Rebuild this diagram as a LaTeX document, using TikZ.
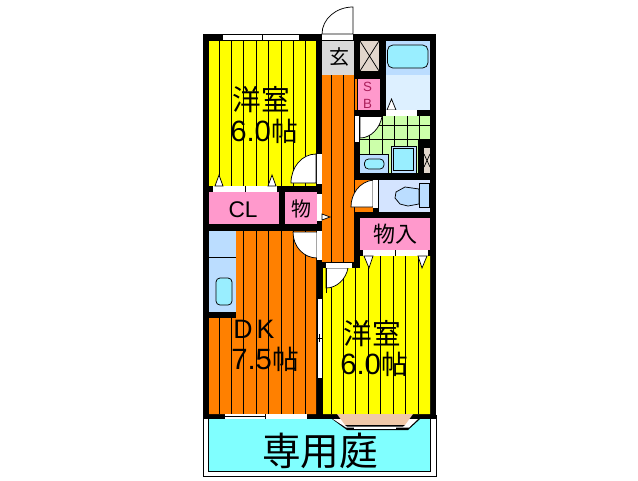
\documentclass[tikz,border=0pt]{standalone}
\usepackage{fontspec}
\setmainfont{Liberation Sans}
\newfontfamily\cjk{Noto Sans CJK JP}
\definecolor{yel}{HTML}{FFFF00}
\definecolor{org}{HTML}{FF8000}
\definecolor{pnk}{HTML}{FF99CC}
\definecolor{gry}{HTML}{D9D9D9}
\definecolor{cya}{HTML}{80FFFF}
\definecolor{blu}{HTML}{BBDDFF}
\definecolor{lbl}{HTML}{DDF0FF}
\definecolor{tub}{HTML}{99EEFF}
\definecolor{grn}{HTML}{CCFFAA}
\definecolor{toi}{HTML}{D4E4FF}
\definecolor{clo}{HTML}{E2D6CC}
\definecolor{pch}{HTML}{F0C8A8}
\tikzset{
  ln/.style={draw=black,line width=.75pt},
  tn/.style={ln,line width=.55pt},
  wht/.style={fill=white,draw=black,line width=.55pt},
  room/.style={inner sep=0pt,outer sep=0pt,text=black},
}
\newcommand{\jp}[1]{{\cjk #1}}
\begin{document}
\begin{tikzpicture}[x=.75pt,y=-.75pt]
\useasboundingbox (0,0) rectangle (638,480);
\fill[white] (0,0) rectangle (638,480);
% garden
\draw[wht,line width=.75pt] (203.5,415) rectangle (436,476.5);
\draw[fill=cya,ln] (208.5,415) rectangle (430.5,471.5);
% building mass
\fill[black] (203,34) rectangle (436,419);
% room 1
\fill[yel] (209,41) rectangle (316,186);
\foreach \x in {219,231,243,256,268,281,293,305} \draw[tn] (\x,41) -- (\x,186);
\draw[wht] (222,34.5) rectangle (299,40.5);
\draw[tn] (262,34.5) -- (262,40.5);
\fill[white] (213,186) rectangle (277,192);
\draw[tn] (245,186) -- (245,192);
\draw[wht] (219,175) -- (215,186) -- (223,186) -- cycle;
\draw[wht] (272,175) -- (268,186) -- (276,186) -- cycle;
\draw[wht] (316,154) .. controls (302,154) and (291,167) .. (291,183) -- (316,183) -- cycle;
\fill[white] (317,154) rectangle (322,184);
% CL and store
\fill[pnk] (209,192) rectangle (279,224);
\fill[pnk] (285,192) rectangle (317,224);
% hall
\fill[gry] (322,41) rectangle (354,75);
\fill[org] (322,75) rectangle (354,262);
\foreach \x in {331,343} \draw[tn] (\x,75) -- (\x,262);
\fill[white] (317,194) rectangle (322,221);
\draw[wht] (322,214) -- (330,217) -- (322,220) -- cycle;
\fill[org] (355,79) rectangle (357,110);
% front door
\fill[white] (322,34) rectangle (353,40);
\draw[wht] (353,7) .. controls (336,7) and (322,19) .. (322,34) -- (353,34) -- cycle;
% closet, SB, bath
\fill[clo] (360,41) rectangle (379,71);
\draw[tn] (360,41) -- (379,71) (379,41) -- (360,71);
\fill[pnk] (358,79) rectangle (380,110);
\fill[blu] (386,41) rectangle (430,75);
\fill[lbl] (386,75) rectangle (430,110);
\draw[tn,fill=tub,rounded corners=4pt] (387.5,45) rectangle (428,68);
\draw[wht] (391.5,99) -- (387,110) -- (396,110) -- cycle;
\fill[white] (386,110) rectangle (417,116);
% washroom
\fill[grn] (360,116) rectangle (430,142);
\fill[grn] (360,142) rectangle (418,173);
\foreach \x in {369,382,394,407,419} \draw[tn] (\x,116) -- (\x,142);
\foreach \x in {369,382,394,407} \draw[tn] (\x,142) -- (\x,173);
\foreach \y in {125,139} \draw[tn] (360,\y) -- (430,\y);
\fill[black] (418,139) rectangle (430,148);
\fill[black] (418,139) rectangle (423,173);
\fill[clo] (424,148) rectangle (430,173);
\draw[tn] (424,154) -- (430,167) (430,154) -- (424,167);
\fill[blu] (360,154) rectangle (388,173);
\draw[tn] (360,154) -- (388,154) -- (388,173);
\draw[tn,fill=tub,rounded corners=3pt] (364.5,159) rectangle (384,169);
\draw[tn,fill=blu] (391,146) rectangle (416,173);
\draw[tn,fill=tub] (393.5,148.5) rectangle (413.5,170.5);
\draw[wht] (360,116.5) -- (382,116.5) .. controls (380,128) and (371,138) .. (360,138) -- cycle;
\fill[white] (355,116) rectangle (359,142);
% toilet
\fill[org] (355,180) rectangle (373,212);
\fill[toi] (379,180) rectangle (430,212);
\draw[wht] (373,180) .. controls (359,182) and (351,194) .. (351,207) -- (373,207) -- cycle;
\fill[white] (373,180) rectangle (378,208);
\draw[tn,fill=blu] (419,183) rectangle (429,207);
\draw[tn,fill=blu] (419,189) -- (405,187) -- (396,192) -- (395,198) -- (400,204) -- (408,206) -- (419,204) -- cycle;
% store 2
\fill[pnk] (360,218) rectangle (430,250);
% DK
\fill[org] (236,231) -- (316,231) -- (316,414) -- (209,414) -- (209,318) -- (236,318) -- cycle;
\foreach \x in {243,256,268,281,293,305} \draw[tn] (\x,231) -- (\x,414);
\foreach \x in {219,231} \draw[tn] (\x,318) -- (\x,414);
\fill[blu] (209,231) rectangle (236,312);
\draw[tn] (209,257) -- (236,257);
\draw[tn,fill=tub,rounded corners=3pt] (216,278) rectangle (232,305);
\draw[wht] (293,232) .. controls (293,247) and (304,258) .. (317,258) -- (317,232) -- cycle;
\fill[white] (317,231) rectangle (322,260);
% room 2
\fill[yel] (323,268) -- (360,268) -- (360,256) -- (430,256) -- (430,414) -- (323,414) -- cycle;
\foreach \x in {331,343,355} \draw[tn] (\x,268) -- (\x,414);
\foreach \x in {368,380,393,405,418} \draw[tn] (\x,256) -- (\x,414);
\draw[wht] (326,268) -- (348,268) .. controls (346,279) and (337,288) .. (326,288) -- cycle;
\draw[tn] (326,268) -- (326,293);
\fill[white] (326,263) rectangle (352,268);
\fill[white] (363,250) rectangle (428,256);
\draw[tn] (395,250) -- (395,256);
\draw[wht] (364,256) -- (373,256) -- (369,268) -- cycle;
\draw[wht] (418,256) -- (427,256) -- (422,268) -- cycle;
% sliding door
\draw[wht] (317.5,298) rectangle (322,378);
\draw[tn] (317.5,338) -- (322,338) (319.7,334) -- (319.7,342);
% bottom openings
\fill[white] (225,414) rectangle (307,419);
\draw[tn] (225,416.5) -- (265,416.5);
\draw[tn] (265,414) -- (265,419);
% bay window
\fill[black] (332,419) -- (347,430) -- (408,430) -- (420,419) -- cycle;
\fill[white] (333,419) -- (346,427.5) -- (409,427.5) -- (418,419) -- cycle;
\fill[pch] (337,414) -- (413,414) -- (405,425) -- (345,425) -- cycle;
\fill[black] (345,425) -- (405,425) -- (403,426.5) -- (347,426.5) -- cycle;
\fill[white] (354,426.5) rectangle (396,428.5);
% texts
\node[room,font=\fontsize{21.5}{21.5}\selectfont\cjk] (r1a) at (261.5,100) {洋室};
\node[room,font=\fontsize{22}{22}\selectfont] (r1b) at (264,131) {6.0\jp{\fontsize{20}{20}\selectfont 帖}};
\node[room,font=\fontsize{20}{20}\selectfont] (dk1) at (254,329) {D\hspace{3pt}K};
\node[room,font=\fontsize{22}{22}\selectfont] (dk2) at (265,359) {7.5\jp{\fontsize{20}{20}\selectfont 帖}};
\node[room,font=\fontsize{21.5}{21.5}\selectfont\cjk] (r2a) at (372,334) {洋室};
\node[room,font=\fontsize{22}{22}\selectfont] (r2b) at (374,364) {6.0\jp{\fontsize{20}{20}\selectfont 帖}};
\node[room,font=\fontsize{17}{17}\selectfont] (cl) at (243,210) {CL};
\node[room,font=\fontsize{15}{15}\selectfont\cjk] (mono) at (301,209) {物};
\node[room,font=\fontsize{15}{15}\selectfont\cjk] (gen) at (339,57) {玄};
\node[room,font=\fontsize{16.5}{16.5}\selectfont\cjk] (mono2) at (395,234) {物入};
\node[room,font=\fontsize{10}{10}\selectfont,text={rgb,255:red,170;green,30;blue,90}] (s) at (367.5,87) {S};
\node[room,font=\fontsize{10}{10}\selectfont,text={rgb,255:red,170;green,30;blue,90}] (b) at (367.5,103.5) {B};
\node[room,font=\fontsize{29}{29}\selectfont\cjk] (niwa) at (320,451) {専用庭};
\end{tikzpicture}
\end{document}
